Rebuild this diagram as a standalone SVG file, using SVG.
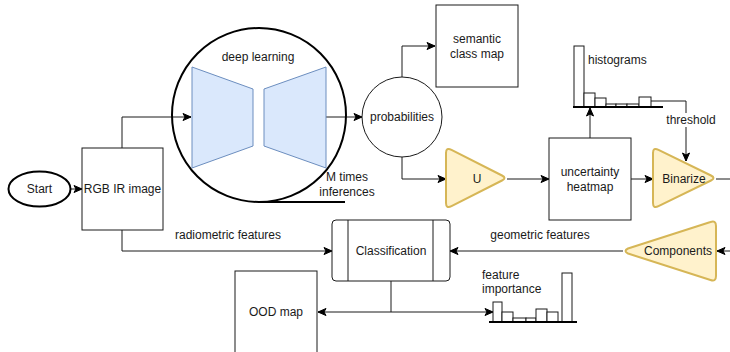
<svg xmlns="http://www.w3.org/2000/svg" width="730" height="352" viewBox="0 0 730 352">
  <defs>
    <marker id="arrow" markerUnits="userSpaceOnUse" markerWidth="10" markerHeight="10" viewBox="0 0 10 10" refX="9" refY="5" orient="auto">
      <path d="M1,1.5 L9,5 L1,8.5 L3,5 Z" fill="#000" stroke="#000" stroke-width="1"/>
    </marker>
    <style>
      text { font-family: "Liberation Sans", Arial, sans-serif; font-size: 12px; fill: #1a1a1a; }
      .c { text-anchor: middle; dominant-baseline: central; }
      .box { fill: #fff; stroke: #1a1a1a; stroke-width: 1; }
      .edge { fill: none; stroke: #1a1a1a; stroke-width: 1; }
      .tri { fill: #fff2cc; stroke: #d6b656; stroke-width: 2; stroke-linejoin: round; }
      .trap { fill: #dae8fc; stroke: #6c8ebf; stroke-width: 1; }
      .bar { fill: #fff; stroke: #1a1a1a; stroke-width: 1; }
    </style>
  </defs>

  <!-- connectors -->
  <g id="connectors">
    <line class="edge" x1="71" y1="189" x2="82" y2="189" marker-end="url(#arrow)"/>
    <polyline class="edge" points="122,148 122,117 191,117" marker-end="url(#arrow)"/>
    <line class="edge" x1="326" y1="117" x2="362" y2="117" marker-end="url(#arrow)"/>
    <polyline class="edge" points="402,77 402,46 435,46" marker-end="url(#arrow)"/>
    <polyline class="edge" points="402,157 402,179 446,179" marker-end="url(#arrow)"/>
    <line class="edge" x1="507" y1="179" x2="549" y2="179" marker-end="url(#arrow)"/>
    <line class="edge" x1="590" y1="138" x2="590" y2="108" marker-end="url(#arrow)"/>
    <line class="edge" x1="631" y1="179" x2="653" y2="179" marker-end="url(#arrow)"/>
    <polyline class="edge" points="651,101 686,101 686,161" marker-end="url(#arrow)"/>
    <line class="edge" x1="716" y1="179" x2="730" y2="179"/>
    <line class="edge" x1="730" y1="251" x2="717" y2="251" marker-end="url(#arrow)"/>
    <line class="edge" x1="623" y1="251" x2="450" y2="251" marker-end="url(#arrow)"/>
    <polyline class="edge" points="122,230 122,251 332,251" marker-end="url(#arrow)"/>
    <polyline class="edge" points="391,281 391,312 318,312" marker-end="url(#arrow)"/>
    <polyline class="edge" points="391,312 493,312" marker-end="url(#arrow)"/>
    <rect x="664" y="113" width="44" height="14" fill="#fff"/>
    <text class="c" x="691" y="120" font-size="11">threshold</text>
    <text class="c" x="228" y="235">radiometric features</text>
    <text class="c" x="540" y="235">geometric features</text>
  </g>

  <g id="start">
    <ellipse cx="39.5" cy="189" rx="31" ry="17.5" fill="#fff" stroke="#000" stroke-width="2"/>
    <text class="c" x="39.5" y="189">Start</text>
  </g>

  <g id="rgb-ir-image">
    <rect class="box" x="82" y="148" width="81" height="82"/>
    <text class="c" x="122.5" y="189">RGB IR image</text>
  </g>

  <g id="deep-learning">
    <circle cx="259" cy="115" r="87" fill="none" stroke="#000" stroke-width="2"/>
    <text class="c" x="258" y="57">deep learning</text>
    <polygon class="trap" points="192,67 253,89 253,146 192,168"/>
    <polygon class="trap" points="264,89 326,67 326,168 264,146"/>
  </g>

  <g id="m-times">
    <line x1="258" y1="202" x2="345" y2="202" stroke="#000" stroke-width="2"/>
    <text class="c" x="347" y="177">M times</text>
    <text class="c" x="347" y="192">inferences</text>
  </g>

  <g id="probabilities">
    <circle cx="402" cy="117" r="40" class="box"/>
    <text class="c" x="402" y="117">probabilities</text>
  </g>

  <g id="semantic-class-map">
    <rect class="box" x="436" y="5" width="82" height="82"/>
    <text class="c" x="477" y="39">semantic</text>
    <text class="c" x="477" y="54">class map</text>
  </g>

  <g id="u">
    <path class="tri" d="M446,153 Q446,147 451.5,149.8 L502,175.5 Q507,178 502,180.5 L451.5,206.2 Q446,209 446,203 Z"/>
    <text class="c" x="477" y="179">U</text>
  </g>

  <g id="uncertainty-heatmap">
    <rect class="box" x="549" y="138" width="82" height="82"/>
    <text class="c" x="590" y="172">uncertainty</text>
    <text class="c" x="590" y="187">heatmap</text>
  </g>

  <g id="histograms">
    <rect class="bar" x="574" y="46" width="10" height="61"/>
    <rect class="bar" x="584" y="93" width="11" height="14"/>
    <rect class="bar" x="595" y="98" width="11" height="9"/>
    <rect class="bar" x="606" y="104" width="10" height="3"/>
    <rect class="bar" x="616" y="104" width="11" height="3"/>
    <rect class="bar" x="627" y="104" width="12" height="3"/>
    <rect class="bar" x="639" y="97" width="12" height="10"/>
    <line x1="573" y1="107" x2="663" y2="107" stroke="#000" stroke-width="2"/>
    <text x="588" y="64">histograms</text>
  </g>

  <g id="binarize">
    <path class="tri" d="M653,153 Q653,147 658.5,149.8 L711,175.5 Q716,178 711,180.5 L658.5,206.2 Q653,209 653,203 Z"/>
    <text class="c" x="684" y="179">Binarize</text>
  </g>

  <g id="components">
    <path class="tri" d="M716,226 Q716,220 710.5,222 L628,248.5 Q623,251 628,253.5 L710.5,280 Q716,282 716,276 Z"/>
    <text class="c" x="678" y="251">Components</text>
  </g>

  <g id="classification">
    <rect class="box" x="332" y="220" width="118" height="61" rx="4" ry="4"/>
    <line class="edge" x1="348" y1="220" x2="348" y2="281"/>
    <line class="edge" x1="433" y1="220" x2="433" y2="281"/>
    <text class="c" x="391" y="251">Classification</text>
  </g>

  <g id="ood-map">
    <rect class="box" x="235" y="271" width="82" height="90"/>
    <text class="c" x="276" y="312">OOD map</text>
  </g>

  <g id="feature-importance">
    <rect class="bar" x="493" y="302" width="9" height="20"/>
    <rect class="bar" x="502" y="312" width="11" height="10"/>
    <rect class="bar" x="513" y="318" width="13" height="4"/>
    <rect class="bar" x="526" y="318" width="10" height="4"/>
    <rect class="bar" x="536" y="309" width="11" height="13"/>
    <rect class="bar" x="547" y="312" width="11" height="10"/>
    <rect class="bar" x="562" y="273" width="10" height="49"/>
    <line x1="489" y1="322" x2="577" y2="322" stroke="#000" stroke-width="2"/>
    <text x="482" y="279">feature</text>
    <text x="482" y="293">importance</text>
  </g>
</svg>
